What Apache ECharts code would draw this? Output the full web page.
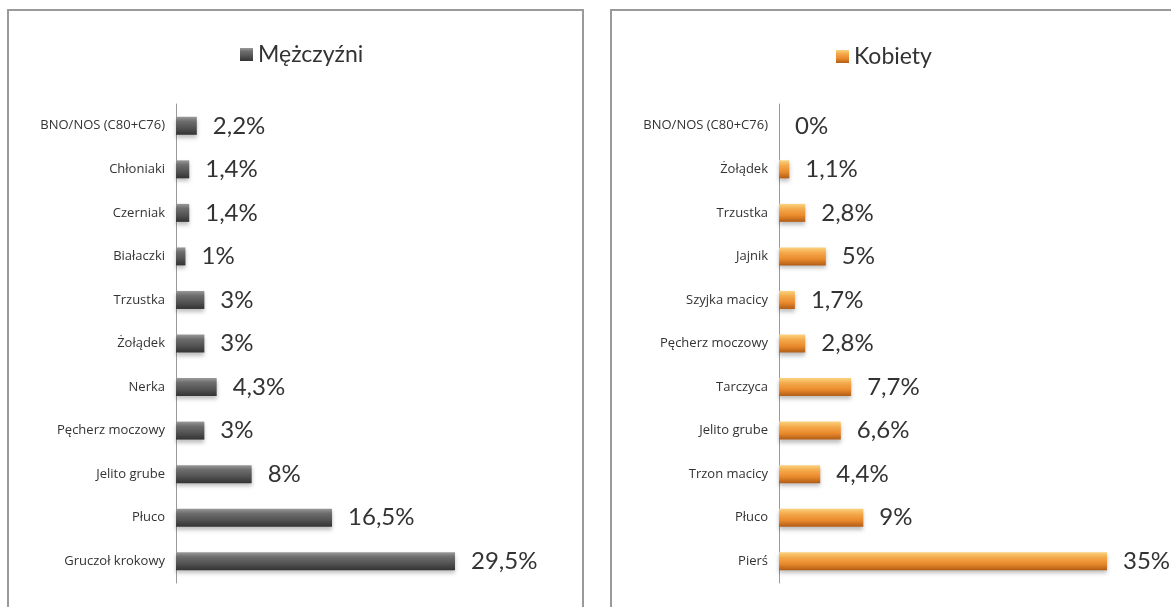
<!DOCTYPE html>
<html>
<head>
<meta charset="utf-8">
<script src="https://cdn.jsdelivr.net/npm/echarts@6/dist/echarts.min.js"></script>
<style>
  html, body { margin: 0; padding: 0; background: #fff; }
  #chart { width: 1171px; height: 607px; }
</style>
</head>
<body>
<div id="chart"></div>
<script>
// dane - mężczyźni (od góry do dołu)
var menCategories = ["BNO/NOS (C80+C76)", "Chłoniaki", "Czerniak", "Białaczki", "Trzustka", "Żołądek", "Nerka", "Pęcherz moczowy", "Jelito grube", "Płuco", "Gruczoł krokowy"];
var menValues = [2.2, 1.4, 1.4, 1, 3, 3, 4.3, 3, 8, 16.5, 29.5];
var menLabels = ["2,2%", "1,4%", "1,4%", "1%", "3%", "3%", "4,3%", "3%", "8%", "16,5%", "29,5%"];

// dane - kobiety
var womenCategories = ["BNO/NOS (C80+C76)", "Żołądek", "Trzustka", "Jajnik", "Szyjka macicy", "Pęcherz moczowy", "Tarczyca", "Jelito grube", "Trzon macicy", "Płuco", "Pierś"];
var womenValues = [0, 1.1, 2.8, 5, 1.7, 2.8, 7.7, 6.6, 4.4, 9, 35];
var womenLabels = ["0%", "1,1%", "2,8%", "5%", "1,7%", "2,8%", "7,7%", "6,6%", "4,4%", "9%", "35%"];

var chart = echarts.init(document.getElementById("chart"));

var grayBar = new echarts.graphic.LinearGradient(0, 0, 0, 1, [
  { offset: 0, color: "#9a9a9a" },
  { offset: 0.25, color: "#6e6e6e" },
  { offset: 0.6, color: "#555555" },
  { offset: 1, color: "#333333" }
]);
var orangeBar = new echarts.graphic.LinearGradient(0, 0, 0, 1, [
  { offset: 0, color: "#fbd27e" },
  { offset: 0.3, color: "#f4a84a" },
  { offset: 0.65, color: "#e98a2c" },
  { offset: 1, color: "#b15d17" }
]);

function catAxis(idx, cats) {
  return {
    type: "category",
    gridIndex: idx,
    data: cats,
    inverse: true,
    axisLine: { show: true, lineStyle: { color: "#999", width: 1 } },
    axisTick: { show: false },
    axisLabel: { color: "#333", fontSize: 13, fontFamily: "Open Sans", margin: 11 }
  };
}
function valAxis(idx) {
  return {
    type: "value",
    gridIndex: idx,
    min: 0,
    max: 35,
    show: false,
    splitLine: { show: false }
  };
}
function barSeries(name, idx, values, labels, color) {
  return {
    name: name,
    type: "bar",
    xAxisIndex: idx,
    yAxisIndex: idx,
    data: values,
    barWidth: 18,
    itemStyle: {
      color: color,
      shadowColor: "rgba(0,0,0,0.25)",
      shadowBlur: 4,
      shadowOffsetY: 3
    },
    label: {
      show: true,
      position: "right",
      distance: 16,
      fontSize: 24,
      fontFamily: "Lato",
      color: "#333",
      formatter: function (p) { return labels[p.dataIndex]; }
    }
  };
}

var option = {
  backgroundColor: "#fff",
  animation: false,
  graphic: [
    { type: "rect", shape: { x: 8, y: 10, width: 575, height: 620 }, style: { fill: "none", stroke: "#9a9a9a", lineWidth: 2 } },
    { type: "rect", shape: { x: 611, y: 10, width: 600, height: 620 }, style: { fill: "none", stroke: "#9a9a9a", lineWidth: 2 } }
  ],
  legend: [
    {
      data: ["Mężczyźni"],
      left: 235, top: 38,
      icon: "rect", itemWidth: 13, itemHeight: 13, itemGap: 6,
      textStyle: { fontSize: 23, fontFamily: "Lato", color: "#333" }
    },
    {
      data: ["Kobiety"],
      left: 831, top: 40,
      icon: "rect", itemWidth: 13, itemHeight: 13, itemGap: 6,
      textStyle: { fontSize: 23, fontFamily: "Lato", color: "#333" }
    }
  ],
  grid: [
    { left: 176, top: 104, width: 331, height: 479 },
    { left: 779, top: 104, width: 328, height: 479 }
  ],
  xAxis: [valAxis(0), valAxis(1)],
  yAxis: [catAxis(0, menCategories), catAxis(1, womenCategories)],
  series: [
    barSeries("Mężczyźni", 0, menValues, menLabels, grayBar),
    barSeries("Kobiety", 1, womenValues, womenLabels, orangeBar)
  ]
};
chart.setOption(option);
</script>
</body>
</html>
